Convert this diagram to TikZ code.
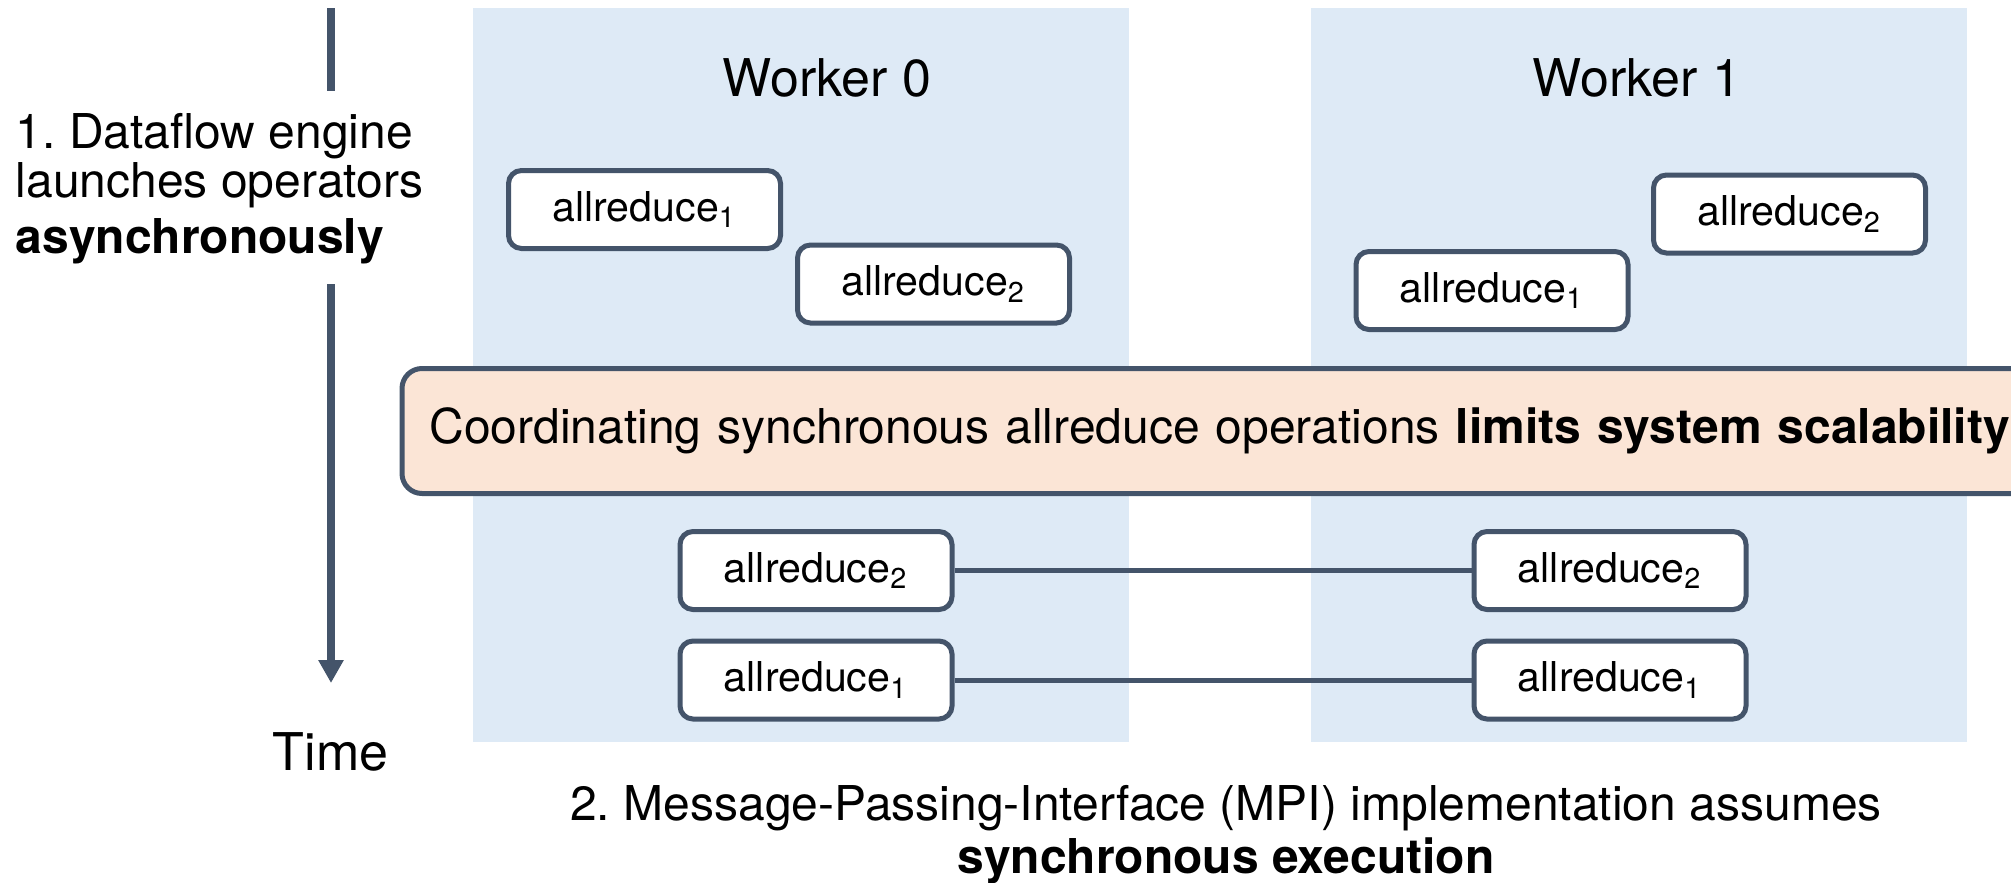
\documentclass[tikz,border=0pt]{standalone}
\usepackage{fontspec}
\setmainfont{TeX Gyre Heros}
\frenchspacing
\usetikzlibrary{arrows.meta}
\definecolor{slate}{HTML}{44546A}
\definecolor{laneblue}{HTML}{DEEAF6}
\definecolor{peach}{HTML}{FBE5D6}
\tikzset{
  lane/.style={fill=laneblue},
  opbox/.style={draw=slate, line width=0.05cm, fill=white, rounded corners=0.13cm,
    minimum width=2.72cm, minimum height=0.78cm, inner sep=0pt,
    font=\fontsize{11.7}{14}\selectfont},
  banner/.style={draw=slate, line width=0.05cm, fill=peach, rounded corners=0.2cm,
    minimum height=1.25cm, text width=15.9cm, inner xsep=0.275cm, align=left,
    font=\fontsize{13.66}{15}\selectfont},
  headlbl/.style={font=\fontsize{14.8}{16}\selectfont, inner sep=0pt, anchor=base},
  link/.style={draw=slate, line width=0.05cm},
  timeaxis/.style={draw=slate, line width=0.08cm}
}
\begin{document}
\begin{tikzpicture}
  \clip (0,0) rectangle (20.11,8.82);
  % worker lanes
  \fill[lane] (4.73,1.40) rectangle (11.29,8.74);
  \fill[lane] (13.11,1.40) rectangle (19.67,8.74);
  \node[headlbl] (head0) at (8.27,7.86) {Worker 0};
  \node[headlbl] (head1) at (16.37,7.86) {Worker 1};

  % operators as launched by the dataflow engine
  \node[opbox] (w0a1) at (6.445,6.725) {allreduce\textsubscript{1}};
  \node[opbox] (w0a2) at (9.335,5.98) {allreduce\textsubscript{2}};
  \node[opbox] (w1a2) at (17.895,6.68) {allreduce\textsubscript{2}};
  \node[opbox] (w1a1) at (14.92,5.915) {allreduce\textsubscript{1}};

  \node[banner, anchor=west] (limit) at (3.995,4.51)
    {Coordinating synchronous allreduce operations \textbf{limits system scalability}};

  % operators as the MPI side runs them
  \node[opbox] (w0s2) at (8.16,3.115) {allreduce\textsubscript{2}};
  \node[opbox] (w0s1) at (8.16,2.02) {allreduce\textsubscript{1}};
  \node[opbox] (w1s2) at (16.10,3.115) {allreduce\textsubscript{2}};
  \node[opbox] (w1s1) at (16.10,2.02) {allreduce\textsubscript{1}};
  \draw[link] (w0s2.east) -- (w1s2.west);
  \draw[link] (w0s1.east) -- (w1s1.west);

  % time axis
  \node[font=\fontsize{13.66}{13.94}\selectfont, align=left, anchor=north west, inner sep=0pt]
    (launch) at (0.15,7.69) {1. Dataflow engine\\launches operators\\[2pt]\textbf{asynchronously}};
  \coordinate (axtop) at (3.31,8.74);
  \coordinate (axgap1) at (3.31,7.91);
  \coordinate (axgap2) at (3.31,5.98);
  \coordinate (axend) at (3.31,1.99);
  \draw[timeaxis] (axtop) -- (axgap1);
  \draw[timeaxis, -{Triangle[width=0.24cm,length=0.23cm]}] (axgap2) -- (axend);
  \node[headlbl] (timelbl) at (3.305,1.12) {Time};

  \node[font=\fontsize{13.66}{15.08}\selectfont, align=center, anchor=north, inner sep=0pt]
    (mpinote) at (12.26,0.97) {2. Message-Passing-Interface (MPI) implementation assumes\\\textbf{synchronous execution}};
\end{tikzpicture}
\end{document}
